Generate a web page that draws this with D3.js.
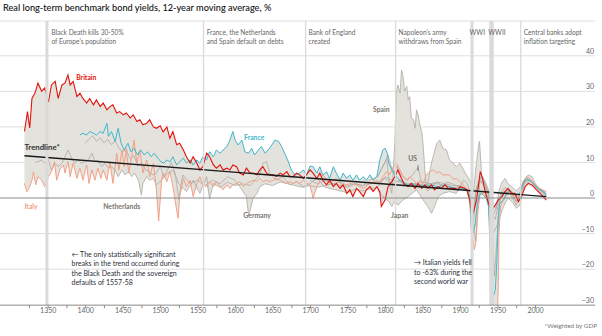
<!DOCTYPE html>
<html>
<head>
<meta charset="utf-8">
<script src="https://cdn.jsdelivr.net/npm/d3@7"></script>
<style>
  html, body { margin: 0; padding: 0; background: #fff; }
  svg { display: block; font-family: Lato, "Noto Sans", sans-serif; }
</style>
</head>
<body>
<svg id="chart" width="602" height="336"></svg>
<script>
// ---------------- DATA ----------------
const title = "Real long-term benchmark bond yields, 12-year moving average, %";

const xTickYears = [1350, 1400, 1450, 1500, 1550, 1600, 1650, 1700, 1750, 1800, 1850, 1900, 1950, 2000];
const xMinorTicks = [1325, 1350, 1375, 1400, 1425, 1450, 1475, 1500, 1525, 1550, 1575, 1600, 1625, 1650, 1675, 1700, 1725, 1750, 1775, 1800, 1825, 1850, 1875, 1900, 1925, 1950, 1975, 2000];
const yTicks = [-30, -20, -10, 0, 10, 20, 30, 40];

const britain = [[1319,18.7],[1323,24.3],[1326,19.7],[1329,28],[1333,29.5],[1337,32.3],[1342,30],[1346,31],[1351,27],[1355,31.8],[1360,32.8],[1364,28],[1369,31.8],[1373,32.3],[1377,34.6],[1380,31.8],[1384,32.8],[1389,28.5],[1393,29.5],[1397,28],[1402,26.7],[1406,28],[1411,26.2],[1415,27.6],[1420,25.7],[1424,26.7],[1429,24.8],[1433,25.7],[1437,26.2],[1442,23.9],[1446,24.3],[1451,23.4],[1455,23.9],[1460,22.5],[1464,23.4],[1469,21.5],[1473,22],[1477,20.6],[1482,21],[1486,22],[1491,20],[1495,19.6],[1500,20.3],[1504,18.6],[1509,20],[1513,16.8],[1517,18.7],[1522,15],[1526,15.4],[1531,13.5],[1535,11.6],[1540,9.8],[1544,11.6],[1549,9.8],[1553,7.9],[1557,8.8],[1562,12.6],[1566,11.6],[1571,9.3],[1575,8.4],[1580,9.3],[1584,7.9],[1589,8.4],[1593,7.9],[1597,9.3],[1602,8.8],[1606,7],[1611,6.5],[1615,8.4],[1620,7],[1624,7],[1629,6.5],[1633,7.9],[1637,8.8],[1642,7],[1646,6.5],[1651,6.5],[1655,6],[1660,7],[1664,6.5],[1669,7.4],[1673,6],[1677,6],[1682,7],[1686,6.5],[1691,5.5],[1695,6.5],[1700,7.9],[1704,7],[1709,5.5],[1713,7],[1717,5],[1722,3.7],[1726,5],[1731,3.2],[1735,4.1],[1740,2.7],[1744,3.7],[1749,1.3],[1753,2.3],[1757,0.4],[1762,2.7],[1766,1.8],[1771,0.4],[1775,2.3],[1780,3.2],[1784,1.8],[1789,3.2],[1793,1.8],[1795,-2.4],[1800,-0.6],[1804,3.2],[1809,4.6],[1813,6],[1817,7.9],[1822,5.5],[1826,3.7],[1831,3.2],[1835,4.1],[1840,2.7],[1844,4.1],[1849,2.7],[1853,3.7],[1857,2.7],[1862,3.7],[1866,2.3],[1871,3.2],[1875,2.7],[1880,3.7],[1884,2.7],[1889,2.7],[1893,2.7],[1897,2.3],[1900,3.2],[1905,2.8],[1909,2.3],[1913,-0.6],[1916,-4.5],[1918,-3.9],[1922,-0.6],[1927,7.4],[1930,5.5],[1933,2.3],[1938,-1.5],[1942,-3.4],[1947,-2],[1951,-0.6],[1956,0.4],[1960,1.8],[1964,2.7],[1969,1.3],[1973,1.3],[1978,-1],[1982,0.4],[1987,3.2],[1991,4.1],[1996,3.7],[2002,2.3],[2009,0.8],[2015,-0.6]];

const france = [[1393,17.7],[1397,18.2],[1402,17.7],[1406,18.7],[1411,18.2],[1415,17.7],[1420,18.7],[1424,18.2],[1429,21],[1431,17.3],[1435,18.7],[1440,15.9],[1444,19.6],[1448,15.4],[1452,13.5],[1457,15.4],[1461,13],[1465,14],[1470,12.1],[1474,13.5],[1479,12.1],[1483,13],[1488,11.6],[1492,12.6],[1497,11.2],[1501,10.2],[1505,9.8],[1509,10.7],[1513,10.2],[1517,11.6],[1522,9.3],[1526,10.2],[1531,11.2],[1535,9.8],[1540,10.7],[1544,9.3],[1549,10.7],[1553,9.8],[1557,11.6],[1562,10.7],[1566,13],[1571,11.6],[1575,13.5],[1580,12.6],[1584,13.5],[1589,14.5],[1593,16.3],[1597,18.7],[1600,16.3],[1604,14.9],[1609,16.3],[1613,13],[1618,12.6],[1622,14],[1626,12.1],[1631,13.5],[1635,14.5],[1640,12.6],[1644,13.5],[1649,14.9],[1653,16.3],[1658,15.9],[1662,14.5],[1666,12.6],[1671,10.2],[1675,7.9],[1680,6.5],[1686,7],[1691,7.9],[1695,6.5],[1700,9],[1704,8.8],[1709,7],[1713,8.8],[1717,6.5],[1722,7.4],[1726,5.5],[1731,8.8],[1735,7],[1740,5],[1744,7],[1749,5.5],[1753,6.5],[1757,5],[1762,6.5],[1766,5],[1771,6],[1775,5],[1780,6.5],[1784,5],[1789,6],[1793,10.7],[1797,13.5],[1800,14],[1803,12.6],[1805,9.8],[1809,7.9],[1813,6.5],[1817,5.5],[1822,4.6],[1826,4.1],[1831,3.7],[1835,4.1],[1840,3.7],[1844,3.4],[1849,3.7],[1853,3.2],[1857,3.4],[1862,3.7],[1866,3.4],[1871,3.2],[1875,3.4],[1880,3.7],[1884,3.2],[1889,3],[1893,2.7],[1897,2.4],[1900,2.7],[1909,2.3],[1913,0.4],[1915,-8.1],[1917,-10],[1920,-7.6],[1923,-1.5],[1927,1.3],[1931,0.8],[1935,-0.1],[1938,-2.4],[1940,-10],[1942,-26],[1943,-28.5],[1947,-26],[1949,-18.4],[1951,-5.3],[1953,-1.5],[1958,-0.6],[1962,1.3],[1966,2.3],[1971,1.3],[1975,0.8],[1980,1.3],[1984,4.1],[1989,5.5],[1993,5],[1998,4.1],[2004,2.7],[2011,1.8],[2015,0.8]];

const italy = [[1319,4.1],[1322,1.8],[1325,2.7],[1329,5],[1331,7.4],[1334,3.7],[1337,6],[1342,5],[1346,3.2],[1351,6],[1355,7.4],[1359,10.2],[1362,5],[1366,7.9],[1371,9.3],[1373,7],[1377,10.2],[1380,6],[1384,9.8],[1389,5.5],[1393,8.4],[1397,5],[1402,9.3],[1405,4.1],[1409,7.9],[1413,5],[1417,8.4],[1421,5.5],[1424,7.9],[1429,5],[1433,10.2],[1437,4.1],[1440,8.8],[1442,12.6],[1445,7.9],[1449,13.5],[1452,8.8],[1455,14],[1458,7],[1462,11.6],[1465,16.3],[1469,9.8],[1473,13.5],[1477,7],[1482,10.7],[1486,6],[1491,9.8],[1495,2.3],[1498,-6.5],[1502,5],[1504,7],[1509,4.6],[1513,7.4],[1517,3.2],[1522,-3.4],[1524,-5.7],[1526,0.4],[1531,5.5],[1535,3.2],[1540,5],[1544,0.4],[1549,4.1],[1553,6],[1557,3.7],[1562,3.2],[1566,4.6],[1571,3.2],[1575,4.6],[1580,3.2],[1584,2.3],[1589,3.7],[1593,2.7],[1597,3.7],[1602,4.1],[1606,4.6],[1611,3.2],[1615,4.1],[1620,4.6],[1624,5],[1629,4.6],[1633,5.5],[1637,4.6],[1642,5],[1646,4.6],[1651,5],[1655,5.5],[1660,5],[1664,4.6],[1669,4.1],[1673,4.6],[1677,4.1],[1682,4.6],[1686,4.1],[1691,5],[1695,4.1],[1700,3.7],[1704,-0.1],[1709,3.2],[1717,6.5],[1726,4.1],[1735,5.5],[1744,3.2],[1753,4.1],[1762,3.7],[1771,2.7],[1780,4.1],[1789,5],[1793,4.1],[1797,6],[1802,7.4],[1806,6.5],[1811,8.8],[1815,9.8],[1820,7.9],[1824,6],[1829,5],[1833,6],[1838,5],[1842,4.1],[1847,5],[1851,4.1],[1855,6.5],[1860,7.4],[1864,7.9],[1869,7],[1873,7.4],[1877,6.5],[1882,6.5],[1886,6.5],[1891,5.3],[1895,5.5],[1900,4.6],[1909,2.7],[1913,-1.5],[1915,-9],[1919,-14.5],[1921,-12.8],[1924,-3.4],[1927,1.3],[1933,1.3],[1938,-1.5],[1940,-14.6],[1942,-40],[1945,-63],[1949,-40],[1951,-25],[1952,-10],[1954,-2.4],[1958,-0.6],[1962,0.8],[1966,1.8],[1971,0.8],[1975,0.4],[1980,0.8],[1984,4.6],[1989,6],[1993,5.5],[2000,4.1],[2006,2.7],[2015,1.8]];

const netherlands = [[1333,10],[1337,10.2],[1342,10.7],[1346,9.8],[1351,10.7],[1355,7.9],[1360,9.8],[1364,8.8],[1369,9.8],[1373,11.6],[1377,13.5],[1382,11.2],[1386,9.8],[1391,10.7],[1395,9.8],[1400,10.2],[1404,10.7],[1409,12.6],[1413,10.2],[1417,10.7],[1422,8.8],[1426,9.8],[1431,8.4],[1435,8.8],[1440,7.9],[1444,6],[1449,7.9],[1453,6.5],[1458,7.4],[1462,6],[1466,7],[1471,5],[1475,0.8],[1477,4.1],[1482,6],[1486,5],[1491,5.5],[1495,3.7],[1502,5],[1510,7],[1517,7.9],[1525,4],[1535,1.8],[1544,5],[1553,1.3],[1562,6],[1566,-0.3],[1571,4.1],[1580,3],[1590,4.5],[1600,3.5],[1610,4],[1620,3.5],[1633,6.5],[1637,9.8],[1642,10.2],[1646,7],[1655,5],[1664,6],[1673,3.7],[1682,4.6],[1691,3.2],[1700,4.1],[1709,5.5],[1720,3],[1730,2.5],[1740,2],[1750,1.5],[1760,2.5],[1770,2],[1780,2.5],[1790,3],[1800,6],[1810,5],[1820,4.5],[1830,3.5],[1840,4],[1850,3.5],[1860,4],[1870,4],[1880,3.5],[1890,3],[1900,3],[1910,2.5],[1915,-3],[1918,-6],[1922,2],[1927,5],[1933,4],[1938,1],[1942,-4],[1947,-6],[1951,-2],[1956,1],[1960,1.5],[1966,1.5],[1971,0.5],[1975,-1],[1980,1.5],[1985,5],[1991,5],[1996,4.5],[2002,3],[2010,2],[2015,0.8]];

const germany = [[1400,15.5],[1405,16.5],[1410,17.5],[1415,16],[1420,17],[1425,15.5],[1430,16.5],[1435,15],[1440,16],[1445,14],[1450,13],[1455,13.5],[1460,11],[1465,12],[1470,9],[1475,10],[1480,8],[1485,7.5],[1490,6.5],[1495,7],[1500,9],[1505,6],[1510,8],[1515,10],[1520,7],[1525,-0.5],[1530,6.5],[1540,4],[1550,5],[1560,3.5],[1570,5],[1580,4],[1590,6],[1600,5],[1610,2],[1615,0.4],[1618,-5],[1620,-3.4],[1624,-0.1],[1629,1.3],[1633,3.2],[1640,4],[1650,3.5],[1660,4.5],[1670,4],[1680,3.5],[1690,3],[1700,3.5],[1710,3],[1720,3.5],[1730,4],[1740,3.5],[1750,3],[1760,4],[1770,3.5],[1780,4],[1790,4.5],[1800,5.5],[1810,4],[1820,5],[1830,4],[1840,4],[1850,4.5],[1860,4],[1870,4.5],[1880,4],[1890,3.5],[1900,3.5],[1910,2.5],[1915,-2],[1918,-8],[1921,-12],[1924,-2],[1927,6],[1931,5],[1935,3],[1940,0],[1944,-5],[1948,-3],[1952,2],[1956,4.5],[1960,5.5],[1964,4],[1970,3],[1975,2],[1980,3],[1985,4.5],[1990,5],[1995,4.5],[2000,3.5],[2008,2],[2015,1]];

const spain = [[1700,5],[1710,4],[1720,5],[1730,4],[1740,4.5],[1750,3.5],[1760,4],[1770,3.5],[1780,5],[1790,6],[1797,9],[1802,11],[1806,4],[1809,1.3],[1811,8],[1813,15.4],[1815,29.5],[1817,31.8],[1820,29.5],[1822,36],[1824,34.2],[1826,30],[1829,31.4],[1831,27.6],[1833,28.5],[1835,22.5],[1838,22],[1840,19.6],[1842,24.8],[1844,23.4],[1847,20],[1849,18.7],[1851,14.5],[1853,7.9],[1855,3.2],[1857,4],[1860,7.9],[1864,11.6],[1869,15.4],[1873,16.3],[1877,14],[1882,13.5],[1886,10.7],[1891,9.8],[1895,8.8],[1900,9.8],[1907,7],[1913,5],[1918,2],[1922,10],[1924,13.5],[1926,16],[1929,6],[1933,4.1],[1938,1.3],[1940,-5],[1944,-10],[1949,-8],[1953,-5.3],[1958,-2.4],[1964,0],[1971,-1.5],[1975,-2.9],[1980,-2],[1984,2],[1987,5.5],[1991,6.5],[1996,6],[2002,3.2],[2015,1.3]];

const us = [[1790,6],[1795,8],[1800,10],[1804,12.1],[1808,9],[1812,7],[1816,9],[1820,7],[1825,6],[1830,5],[1835,6],[1840,7.5],[1844,8.5],[1848,5],[1852,3],[1857,2],[1862,3],[1866,4],[1871,4.5],[1877,3],[1882,4.5],[1890,4],[1900,3],[1910,2],[1915,-1],[1918,-5],[1921,2],[1925,5],[1930,6],[1935,4],[1940,1],[1944,-2],[1948,-3],[1952,0],[1956,1.5],[1960,2],[1965,2],[1970,1],[1975,-1],[1980,0],[1985,4.5],[1990,5],[1995,4.5],[2000,3.5],[2008,2],[2015,0.8]];

const japan = [[1790,2],[1800,0],[1805,-1],[1809,-2.4],[1813,-1],[1817,-2],[1824,-0.6],[1833,0.8],[1842,2.3],[1851,-0.6],[1857,-2.4],[1862,-4.3],[1866,-2.4],[1871,0.4],[1877,1.3],[1886,1.8],[1895,1.3],[1900,3],[1905,5],[1910,4],[1915,0],[1918,-4],[1922,3],[1926,5],[1930,4],[1935,2],[1940,-3],[1943,-10],[1946,-22],[1949,-12],[1952,-3],[1956,2],[1960,3],[1965,2],[1970,0],[1975,-2],[1980,1],[1985,4],[1990,4.5],[1995,3.5],[2000,3],[2008,1.5],[2015,0.5]];

const trendYears = [1319, 2015];
const trendValues = [11.9, 0.4];

const eventStart = [1347, 1557, 1694, 1814, 1914, 1939, 1981];
const eventEnd   = [1351, 1558, 1694, 1814, 1918, 1945, 1981];
const eventText  = [
  ["Black Death kills 30-50%", "of Europe\u2019s population"],
  ["France, the Netherlands", "and Spain default on debts"],
  ["Bank of England", "created"],
  ["Napoleon\u2019s army", "withdraws from Spain"],
  ["WWI"],
  ["WWII"],
  ["Central banks adopt", "inflation targeting"]
];

const noteLeft = ["\u2190 The only statistically significant", "breaks in the trend occurred during", "the Black Death and the sovereign", "defaults of 1557-58"];
const noteRight = ["\u2192 Italian yields fell", "to -63% during the", "second world war"];
const footnote = "*Weighted by GDP";

// ---------------- DRAW ----------------
const svg = d3.select("#chart");
const x = d3.scaleLinear().domain([1350, 2000]).range([47.7, 535]);
const y = d3.scaleLinear().domain([0, 40]).range([198, 55.8]);
const LEFT = 0, RIGHT = 595, TOP = 21, BOTTOM = y(-30) + 0.5;

const C = {
  britain: "#e3120b", france: "#3fb6cc", italy: "#f4a085", grey: "#b0aaa2",
  band: "#e3e2dd", grid: "#dedede", event: "#dadada", text: "#333", axisText: "#666"
};

svg.append("text").attr("x", 3).attr("y", 11)
  .attr("font-size", 9.2).attr("fill", "#111").attr("font-weight", 500).text(title);

// gridlines
svg.append("line").attr("x1", LEFT).attr("x2", RIGHT).attr("y1", TOP).attr("y2", TOP)
  .attr("stroke", C.grid).attr("stroke-width", 1);
const grid = svg.append("g");
yTicks.forEach(v => {
  if (v === -30 || v === 0) return;
  grid.append("line").attr("x1", LEFT).attr("x2", RIGHT).attr("y1", y(v)).attr("y2", y(v))
    .attr("stroke", C.grid).attr("stroke-width", 1);
});

// clip
svg.append("clipPath").attr("id", "plotclip").append("rect")
  .attr("x", 0).attr("y", TOP).attr("width", 602).attr("height", BOTTOM - TOP);
const plot = svg.append("g").attr("clip-path", "url(#plotclip)");

// envelope band (range across all countries)
const allSeries = [britain, france, italy, netherlands, germany, spain, us, japan];
function valueAt(series, yr) {
  if (yr < series[0][0] || yr > series[series.length - 1][0]) return null;
  const i = d3.bisector(d => d[0]).left(series, yr);
  if (series[i][0] === yr) return series[i][1];
  const a = series[i - 1], b = series[i];
  return a[1] + (b[1] - a[1]) * (yr - a[0]) / (b[0] - a[0]);
}
const yearSet = new Set();
allSeries.forEach(s => s.forEach(d => yearSet.add(d[0])));
const bandYears = Array.from(yearSet).sort((a, b) => a - b);
const bandData = bandYears.map(yr => {
  const vals = allSeries.map(s => valueAt(s, yr)).filter(v => v !== null);
  return { yr, lo: d3.min(vals), hi: d3.max(vals) };
});
plot.append("path").datum(bandData)
  .attr("fill", C.band)
  .attr("d", d3.area().x(d => x(d.yr)).y0(d => y(d.lo)).y1(d => y(d.hi)));

// event lines
eventStart.forEach((s, i) => {
  const e = eventEnd[i];
  const w = Math.max(1.3, x(e) - x(s));
  svg.append("rect").attr("x", x(s) - (e === s ? 0.65 : 0)).attr("y", TOP)
    .attr("width", w).attr("height", BOTTOM - TOP).attr("fill", C.event);
  const isWar = (s > 1900 && e - s > 2);
  const tx = isWar ? x(s) - 1 : x(e) + 3;
  eventText[i].forEach((t, j) => {
    svg.append("text").attr("x", tx).attr("y", 35 + j * 9)
      .attr("font-size", 6.6).attr("fill", "#666")
      .text(t);
  });
});

// zero line
svg.append("line").attr("x1", LEFT).attr("x2", RIGHT).attr("y1", y(0)).attr("y2", y(0))
  .attr("stroke", "#8a8a8a").attr("stroke-width", 1);

// series lines
const line = d3.line().x(d => x(d[0])).y(d => y(d[1]));
[netherlands, germany, spain, us, japan].forEach(s => {
  plot.append("path").datum(s).attr("fill", "none").attr("stroke", C.grey)
    .attr("stroke-width", 0.8).attr("d", line);
});
plot.append("path").datum(italy).attr("fill", "none").attr("stroke", C.italy).attr("stroke-width", 1).attr("d", line);
plot.append("path").datum(france).attr("fill", "none").attr("stroke", C.france).attr("stroke-width", 1).attr("d", line);
plot.append("path").datum(britain).attr("fill", "none").attr("stroke", C.britain).attr("stroke-width", 1.1).attr("d", line);

// trendline
plot.append("path").datum(trendYears.map((t, i) => [t, trendValues[i]]))
  .attr("fill", "none").attr("stroke", "#1a1a1a").attr("stroke-width", 1.4).attr("d", line);

// x axis
const axisY = BOTTOM;
svg.append("line").attr("x1", LEFT).attr("x2", RIGHT).attr("y1", axisY).attr("y2", axisY)
  .attr("stroke", "#8a8a8a").attr("stroke-width", 1);
const xAxis = d3.axisBottom(x).tickValues(xMinorTicks).tickSize(3)
  .tickFormat(d => xTickYears.includes(d) ? d : "");
const gx = svg.append("g").attr("transform", `translate(0,${axisY})`).call(xAxis);
gx.select(".domain").remove();
gx.selectAll(".tick line").attr("stroke", "#8a8a8a");
gx.selectAll(".tick text").attr("font-size", 7).attr("fill", C.axisText)
  .attr("font-family", "Lato, sans-serif").attr("dy", "0.3em");

// y labels on right
const yAxis = d3.axisRight(y).tickValues(yTicks).tickSize(0).tickFormat(d3.format("d"));
const gy = svg.append("g").attr("transform", `translate(${RIGHT - 1},0)`).call(yAxis);
gy.select(".domain").remove();
gy.selectAll(".tick text").attr("font-size", 7).attr("fill", C.axisText)
  .attr("font-family", "Lato, sans-serif")
  .attr("text-anchor", "end").attr("x", 0).attr("dy", "-0.35em");

// series labels
const labels = [
  { t: "Britain", x: 1388, yv: 33.3, c: C.britain, w: 700, s: 6.8 },
  { t: "France", x: 1612, yv: 16.2, c: C.france, w: 700, s: 6.8 },
  { t: "Trendline*", x: 1319, yv: 13.6, c: "#333", w: 700, s: 7.8 },
  { t: "Spain", x: 1784, yv: 24.3, c: "#7a746c", w: 700, s: 6.8 },
  { t: "US", x: 1831, yv: 10.3, c: "#7a746c", w: 700, s: 6.8 },
  { t: "Italy", x: 1319, yv: -3.1, c: C.italy, w: 700, s: 6.8 },
  { t: "Netherlands", x: 1424, yv: -3.1, c: "#7a746c", w: 700, s: 6.8 },
  { t: "Germany", x: 1611, yv: -5.7, c: "#7a746c", w: 700, s: 6.8 },
  { t: "Japan", x: 1808, yv: -5.6, c: "#7a746c", w: 700, s: 6.8 }
];
labels.forEach(l => {
  svg.append("text").attr("x", x(l.x)).attr("y", y(l.yv))
    .attr("font-size", l.s).attr("font-weight", l.w).attr("fill", l.c).text(l.t);
});
svg.append("line").attr("x1", x(1844)).attr("x2", x(1844)).attr("y1", y(9.2)).attr("y2", y(7.7))
  .attr("stroke", "#555").attr("stroke-width", 0.8);

// notes
noteLeft.forEach((t, i) => {
  svg.append("text").attr("x", 71.5).attr("y", 256.5 + i * 9.6)
    .attr("font-size", 7).attr("fill", "#2a2f3a").text(t);
});
noteRight.forEach((t, i) => {
  svg.append("text").attr("x", 414).attr("y", 265 + i * 9.6)
    .attr("font-size", 7).attr("fill", "#2a2f3a").text(t);
});
svg.append("text").attr("x", 597).attr("y", 328).attr("text-anchor", "end")
  .attr("font-size", 6.3).attr("fill", "#777").text(footnote);
</script>
</body>
</html>
